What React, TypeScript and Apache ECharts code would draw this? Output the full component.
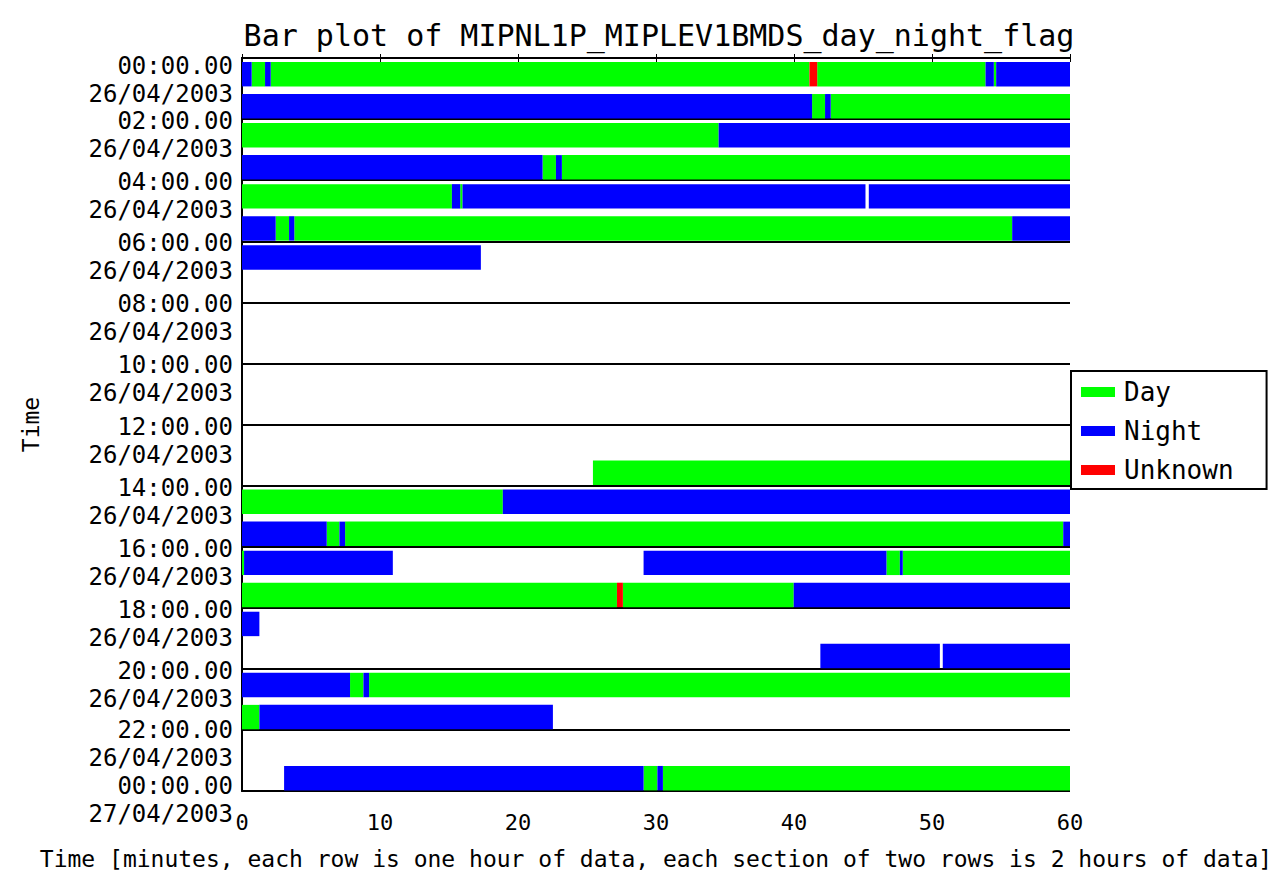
import React, { useEffect, useRef } from "react";
import * as echarts from "echarts";

// Segments: [row (hour of day), start minute, end minute]
const daySegments: number[][] = [
  [0, 0.7, 1.67], [0, 2.08, 41.12], [0, 41.68, 53.88], [0, 54.48, 54.65],
  [1, 41.31, 42.25], [1, 42.66, 60],
  [2, 0, 34.54],
  [3, 21.78, 22.75], [3, 23.18, 60],
  [4, 0, 15.21], [4, 15.81, 15.98],
  [5, 2.44, 3.41], [5, 3.79, 55.81],
  [13, 25.43, 60],
  [14, 0, 18.9],
  [15, 6.14, 7.06], [15, 7.47, 59.51],
  [16, 0, 0.15], [16, 46.7, 47.67], [16, 47.88, 60],
  [17, 0, 27.17], [17, 27.6, 39.98],
  [20, 7.83, 8.8], [20, 9.21, 60],
  [21, 0, 1.26],
  [23, 29.1, 30.1], [23, 30.5, 60],
];

const nightSegments: number[][] = [
  [0, 0, 0.7], [0, 1.67, 2.08], [0, 53.88, 54.48], [0, 54.65, 60],
  [1, 0, 41.31], [1, 42.25, 42.66],
  [2, 34.54, 60],
  [3, 0, 21.78], [3, 22.75, 23.18],
  [4, 15.21, 15.81], [4, 15.98, 45.18], [4, 45.42, 60],
  [5, 0, 2.44], [5, 3.41, 3.79], [5, 55.81, 60],
  [6, 0, 17.31],
  [14, 18.9, 60],
  [15, 0, 6.14], [15, 7.06, 7.47], [15, 59.51, 60],
  [16, 0.15, 10.93], [16, 29.1, 46.7], [16, 47.67, 47.88],
  [17, 39.98, 60],
  [18, 0, 1.26],
  [19, 41.91, 50.57], [19, 50.78, 60],
  [20, 0, 7.83], [20, 8.8, 9.21],
  [21, 1.26, 22.53],
  [23, 3.05, 29.1], [23, 30.1, 30.5],
];

const unknownSegments: number[][] = [
  [0, 41.12, 41.68],
  [17, 27.17, 27.6],
];

const hourLabels = [
  "00:00.00", "02:00.00", "04:00.00", "06:00.00", "08:00.00", "10:00.00",
  "12:00.00", "14:00.00", "16:00.00", "18:00.00", "20:00.00", "22:00.00", "00:00.00",
];
const dateLabels = [
  "26/04/2003", "26/04/2003", "26/04/2003", "26/04/2003", "26/04/2003", "26/04/2003",
  "26/04/2003", "26/04/2003", "26/04/2003", "26/04/2003", "26/04/2003", "26/04/2003", "27/04/2003",
];

const seriesNames = ["Day", "Night", "Unknown"];
const seriesColors = ["#00ff00", "#0000ff", "#ff0000"];

const FONT = "DejaVu Sans Mono";

function renderItem(params: any, api: any) {
  const row = api.value(0);
  const s = api.value(1);
  const e = api.value(2);
  const top = row % 2 === 0 ? row + 0.13 : row + 0.18;
  const bot = top + 0.8;
  const p1 = api.coord([s, top]);
  const p2 = api.coord([e, bot]);
  return {
    type: "rect",
    shape: { x: p1[0], y: p1[1], width: p2[0] - p1[0], height: p2[1] - p1[1] },
    style: { fill: api.visual("color") },
  };
}

const labelText = { fontFamily: FONT, fontSize: 24, color: "#000" };

export default function App() {
  const ref = useRef<HTMLDivElement>(null);
  useEffect(() => {
    if (!ref.current) return;
    const chart = echarts.init(ref.current, null, { renderer: "svg" });
    const allData = [daySegments, nightSegments, unknownSegments];
    const idx = (v: number) => Math.round(v / 2);
    chart.setOption({
      animation: false,
      backgroundColor: "#ffffff",
      title: {
        text: "Bar plot of MIPNL1P_MIPLEV1BMDS_day_night_flag",
        left: 654,
        textAlign: "center",
        top: 15,
        textStyle: { fontFamily: FONT, fontSize: 30, fontWeight: "normal", color: "#000" },
      },
      legend: {
        orient: "vertical",
        left: 1071,
        top: 371,
        icon: "rect",
        itemWidth: 34,
        itemHeight: 10,
        itemGap: 13,
        padding: [8, 33, 6, 10],
        borderColor: "#000",
        borderWidth: 2,
        backgroundColor: "#fff",
        textStyle: { fontFamily: FONT, fontSize: 26, color: "#000", padding: [0, 0, 0, 4] },
        data: seriesNames,
      },
      grid: { left: 242, right: 214, top: 58, bottom: 83, containLabel: false },
      xAxis: [
        {
          type: "value",
          position: "bottom",
          min: 0,
          max: 60,
          interval: 10,
          axisLine: { show: true, lineStyle: { color: "#000", width: 2 } },
          axisTick: { show: true, inside: true, length: 4, lineStyle: { color: "#000" } },
          splitLine: { show: false },
          axisLabel: { fontFamily: FONT, fontSize: 22, color: "#000", margin: 20 },
          name: "Time [minutes, each row is one hour of data, each section of two rows is 2 hours of data]",
          nameLocation: "middle",
          nameGap: 56,
          nameTextStyle: { fontFamily: FONT, fontSize: 23, color: "#000" },
        },
        {
          type: "value",
          position: "top",
          min: 0,
          max: 60,
          interval: 10,
          axisLine: { show: true, lineStyle: { color: "#000", width: 2 } },
          axisTick: { show: true, inside: true, length: 4, lineStyle: { color: "#000" } },
          splitLine: { show: false },
          axisLabel: { show: false },
        },
      ],
      yAxis: [
        {
          type: "value",
          position: "left",
          min: 0,
          max: 24,
          interval: 2,
          inverse: true,
          axisLine: { show: true, lineStyle: { color: "#000", width: 2 } },
          axisTick: { show: false },
          splitLine: { show: true, lineStyle: { color: "#000", width: 2 } },
          axisLabel: {
            color: "#000",
            margin: 9,
            verticalAlign: "top",
            showMinLabel: true,
            hideOverlap: false,
            formatter: (v: number) => {
              if (v >= 24) return "";
              const i = idx(v);
              if (i === 0) return `{t0|${hourLabels[i]}}\n{d0|${dateLabels[i]}}`;
              if (i === 11) return `{t11|${hourLabels[i]}}\n{d11|${dateLabels[i]}}`;
              return `{t|${hourLabels[i]}}\n{d|${dateLabels[i]}}`;
            },
            rich: {
              t: { ...labelText, lineHeight: 4, align: "right" },
              d: { ...labelText, lineHeight: 52, align: "right" },
              t11: { ...labelText, lineHeight: 0.5, align: "right" },
              d11: { ...labelText, lineHeight: 56, align: "right" },
              t0: { ...labelText, lineHeight: 16, align: "right" },
              d0: { ...labelText, lineHeight: 40, align: "right" },
            },
          },
          name: "Time",
          nameLocation: "middle",
          nameRotate: 90,
          nameGap: 200,
          nameTextStyle: { fontFamily: FONT, fontSize: 23, color: "#000" },
        },
        {
          type: "value",
          position: "right",
          min: 0,
          max: 24,
          interval: 2,
          inverse: true,
          axisLine: { show: true, lineStyle: { color: "#000", width: 2 } },
          axisTick: { show: false },
          splitLine: { show: false },
          axisLabel: { show: false },
        },
        {
          type: "value",
          position: "left",
          min: 0,
          max: 24,
          interval: 2,
          inverse: true,
          axisLine: { show: false },
          axisTick: { show: false },
          splitLine: { show: false },
          axisLabel: {
            color: "#000",
            margin: 9,
            verticalAlign: "middle",
            showMaxLabel: true,
            hideOverlap: false,
            formatter: (v: number) => {
              if (v < 24) return "";
              const i = idx(v);
              return `{t|${hourLabels[i]}}\n{d|${dateLabels[i]}}`;
            },
            rich: {
              t: { ...labelText, lineHeight: 46, align: "right" },
              d: { ...labelText, lineHeight: 10, align: "right" },
            },
          },
        },
      ],
      series: allData.map((d, i) => ({
        type: "custom",
        name: seriesNames[i],
        xAxisIndex: 0,
        yAxisIndex: 0,
        renderItem,
        itemStyle: { color: seriesColors[i] },
        encode: { x: [1, 2], y: 0 },
        data: d,
      })),
    });
    return () => chart.dispose();
  }, []);
  return (
    <div
      ref={ref}
      style={{ position: "fixed", left: 0, top: 0, width: 1284, height: 875 }}
    />
  );
}
